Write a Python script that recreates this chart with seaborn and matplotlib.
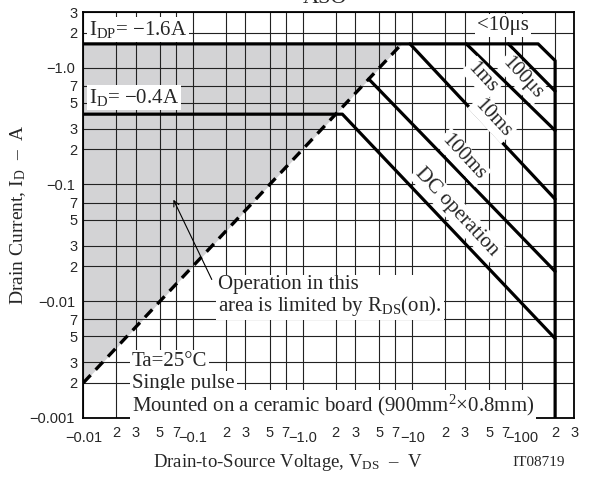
import pandas as pd
import matplotlib
matplotlib.use("Agg")
import matplotlib.pyplot as plt
import seaborn as sns

# SOA boundary curves (magnitudes: V_DS in V, I_D in A)
pulse_10us_v = [0.01, 140, 200, 200]
pulse_10us_i = [1.6, 1.6, 1.15, 0.001]
pulse_100us_v = [75, 200]
pulse_100us_i = [1.6, 0.63]
pulse_1ms_v = [31, 200]
pulse_1ms_i = [1.6, 0.29]
pulse_10ms_v = [9.5, 200]
pulse_10ms_i = [1.6, 0.075]
pulse_100ms_v = [4, 200]
pulse_100ms_i = [0.8, 0.018]
dc_v = [0.01, 2.3, 200]
dc_i = [0.4, 0.4, 0.0048]

# R_DS(on) limit line
rds_v = [0.01, 8]
rds_i = [0.002, 1.6]
idp = 1.6

# axis ticks
x_ticks = [0.01, 0.02, 0.03, 0.05, 0.07, 0.1, 0.2, 0.3, 0.5, 0.7, 1, 2, 3, 5, 7,
           10, 20, 30, 50, 70, 100, 200, 300]
x_labels = ["−0.01", "2", "3", "5", "7", "−0.1", "2", "3", "5", "7", "−1.0", "2", "3", "5", "7",
            "−10", "2", "3", "5", "7", "−100", "2", "3"]
y_ticks = [0.001, 0.002, 0.003, 0.005, 0.007, 0.01, 0.02, 0.03, 0.05, 0.07,
           0.1, 0.2, 0.3, 0.5, 0.7, 1, 2, 3]
y_labels = ["−0.001", "2", "3", "5", "7", "−0.01", "2", "3", "5", "7",
            "−0.1", "2", "3", "5", "7", "−1.0", "2", "3"]

sns.set_style("white")
plt.rcParams['font.family'] = ['Liberation Serif', 'DejaVu Serif']
plt.rcParams['mathtext.fontset'] = 'custom'
plt.rcParams['mathtext.rm'] = 'Liberation Serif'
plt.rcParams['mathtext.it'] = 'Liberation Serif:italic'

fig = plt.figure(figsize=(6.02, 4.82), dpi=100)
ax = fig.add_axes([0.1384, 0.1328, 0.8158, 0.8423])
ax.set_xscale('log')
ax.set_yscale('log')

# shaded R_DS(on) limited area
ax.fill_between(rds_v, rds_i, idp, color='#d3d3d5', lw=0, zorder=0.8)

curves = {
    "<10us": (pulse_10us_v, pulse_10us_i),
    "100us": (pulse_100us_v, pulse_100us_i),
    "1ms": (pulse_1ms_v, pulse_1ms_i),
    "10ms": (pulse_10ms_v, pulse_10ms_i),
    "100ms": (pulse_100ms_v, pulse_100ms_i),
    "DC": (dc_v, dc_i),
}
df = pd.concat([pd.DataFrame({"v": v, "i": i, "curve": k}) for k, (v, i) in curves.items()])
sns.lineplot(data=df, x="v", y="i", units="curve", estimator=None, sort=False,
             color="black", lw=2.3, ax=ax, zorder=2)
sns.lineplot(x=rds_v, y=rds_i, color="black", lw=2.4, linestyle=(0, (3.2, 2.2)),
             ax=ax, zorder=2)

ax.set_xlim(0.01, 300)
ax.set_ylim(0.001, 3)
ax.set_xticks(x_ticks, x_labels)
ax.set_yticks(y_ticks, y_labels)
ax.minorticks_off()
ax.tick_params(length=0, labelsize=10.5)
for lab in ax.get_xticklabels() + ax.get_yticklabels():
    lab.set_fontfamily('Liberation Sans')
for t, lab in zip(ax.xaxis.get_major_ticks(), x_labels):
    t.set_pad(9.5 if lab.startswith("−") else 6)
for t, lab in zip(ax.yaxis.get_major_ticks(), y_labels):
    t.set_pad(6 if lab.startswith("−") else 4)

ax.set_axisbelow('line')
ax.grid(True, which='major', color='#222222', lw=0.8)
for s in ax.spines.values():
    s.set_color('black')
    s.set_linewidth(1.3)

ax.set_ylabel(r"Drain Current, I$_{\rm D}$  –  A", fontsize=14)
ax.set_xlabel(r"Drain-to-Source Voltage, V$_{\rm DS}$  –  V", fontsize=13.5)
ax.yaxis.set_label_coords(-0.112, 0.5)
ax.xaxis.set_label_coords(0.417, -0.085)

wb = dict(facecolor='white', edgecolor='none', pad=1.5)
fs = 15
ax.text(0.012, 0.956, r"I$_{\rm DP}$= −1.6A", transform=ax.transAxes, fontsize=fs,
        va='center', bbox=wb, zorder=3)
ax.text(0.012, 0.79, r"I$_{\rm D}$= −0.4A", transform=ax.transAxes, fontsize=fs,
        va='center', bbox=wb, zorder=3)
ax.text(67, 2.3, "<10μs", fontsize=fs, ha='center', va='center', bbox=wb, zorder=3)

rot = -47
for txt, x, y in [("1ms", 43, 0.82), ("100μs", 100, 0.82), ("10ms", 54, 0.37),
                  ("100ms", 29, 0.171), ("DC operation", 25.5, 0.0577)]:
    ax.text(x, y, txt, fontsize=fs, rotation=rot, rotation_mode='anchor',
            ha='center', va='center', bbox=wb, zorder=3)

ax.text(0.275, 0.299, "Operation in this\narea is limited by R$_{\\rm DS}$(on).",
        transform=ax.transAxes, fontsize=fs, va='center', linespacing=1.0,
        bbox=wb, zorder=3)
ax.annotate("", xy=(0.181, 0.544), xytext=(0.264, 0.335), xycoords='axes fraction',
            arrowprops=dict(arrowstyle='->', color='black', lw=0.8), zorder=3)

ax.text(0.099, 0.138, "Ta=25°C", transform=ax.transAxes, fontsize=fs, va='center',
        bbox=wb, zorder=3)
ax.text(0.099, 0.086, "Single pulse", transform=ax.transAxes, fontsize=fs, va='center',
        bbox=wb, zorder=3)
ax.text(0.099, 0.032, "Mounted on a ceramic board (900mm$^{2}$×0.8mm)",
        transform=ax.transAxes, fontsize=fs, va='center', bbox=wb, zorder=3)

fig.text(0.895, 0.040, "IT08719", fontsize=11, ha='center', va='center')
fig.text(0.54, 0.993, "ASO", fontsize=16, ha='center', va='baseline')

fig.savefig("out.png", dpi=100)
